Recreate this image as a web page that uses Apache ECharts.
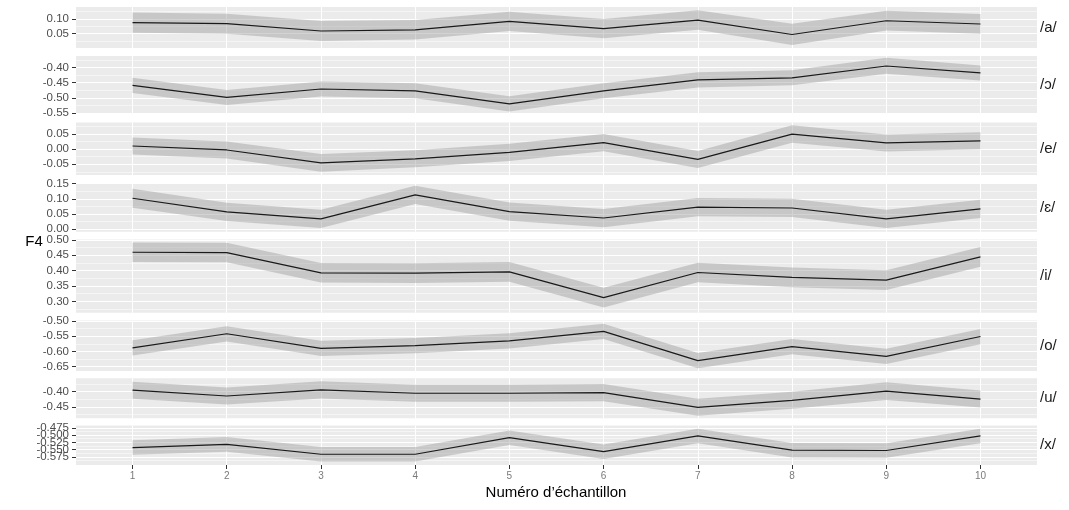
<!DOCTYPE html>
<html><head><meta charset="utf-8">
<script src="https://cdn.jsdelivr.net/npm/echarts@6/dist/echarts.min.js"></script>
<style>html,body{margin:0;padding:0;background:#fff}#c{width:1069px;height:510px}</style>
</head><body><div id="c"></div>
<script>
// ---- data ----
const samples = [1, 2, 3, 4, 5, 6, 7, 8, 9, 10];
const vowels = ['/a/', '/ɔ/', '/e/', '/ɛ/', '/i/', '/o/', '/u/', '/x/'];
const xTitle = 'Numéro d’échantillon';
const yTitle = 'F4';

const mean_a = [0.0875, 0.084, 0.059, 0.063, 0.092, 0.067, 0.096, 0.047, 0.094, 0.083];
const low_a  = [0.053, 0.050, 0.025, 0.030, 0.059, 0.034, 0.063, 0.011, 0.061, 0.050];
const high_a = [0.122, 0.118, 0.093, 0.097, 0.125, 0.100, 0.130, 0.084, 0.128, 0.117];

const mean_o_open = [-0.459, -0.499, -0.471, -0.477, -0.520, -0.477, -0.441, -0.434, -0.395, -0.418];
const low_o_open  = [-0.484, -0.524, -0.496, -0.502, -0.545, -0.502, -0.466, -0.459, -0.421, -0.443];
const high_o_open = [-0.434, -0.474, -0.446, -0.452, -0.495, -0.452, -0.416, -0.409, -0.368, -0.393];

const mean_e = [0.010, -0.003, -0.045, -0.032, -0.011, 0.021, -0.034, 0.049, 0.020, 0.027];
const low_e  = [-0.018, -0.031, -0.074, -0.060, -0.039, -0.007, -0.062, 0.021, -0.008, -0.001];
const high_e = [0.038, 0.025, -0.016, -0.004, 0.017, 0.049, -0.006, 0.078, 0.048, 0.055];

const mean_e_open = [0.102, 0.057, 0.034, 0.113, 0.058, 0.037, 0.073, 0.070, 0.034, 0.067];
const low_e_open  = [0.071, 0.027, 0.004, 0.083, 0.028, 0.007, 0.043, 0.040, 0.004, 0.037];
const high_e_open = [0.133, 0.087, 0.064, 0.143, 0.088, 0.067, 0.103, 0.100, 0.064, 0.097];

const mean_i = [0.460, 0.459, 0.393, 0.392, 0.396, 0.312, 0.394, 0.378, 0.369, 0.445];
const low_i  = [0.428, 0.427, 0.361, 0.360, 0.364, 0.280, 0.362, 0.346, 0.337, 0.413];
const high_i = [0.492, 0.491, 0.425, 0.424, 0.428, 0.344, 0.426, 0.410, 0.401, 0.477];

const mean_o = [-0.588, -0.542, -0.590, -0.581, -0.565, -0.534, -0.630, -0.584, -0.616, -0.551];
const low_o  = [-0.613, -0.567, -0.615, -0.606, -0.590, -0.559, -0.655, -0.609, -0.641, -0.576];
const high_o = [-0.563, -0.517, -0.565, -0.556, -0.540, -0.509, -0.605, -0.559, -0.591, -0.526];

const mean_u = [-0.395, -0.414, -0.394, -0.405, -0.405, -0.403, -0.451, -0.428, -0.398, -0.424];
const low_u  = [-0.423, -0.442, -0.422, -0.433, -0.433, -0.431, -0.479, -0.456, -0.427, -0.452];
const high_u = [-0.367, -0.386, -0.366, -0.377, -0.377, -0.375, -0.423, -0.400, -0.369, -0.396];

const mean_x = [-0.543, -0.532, -0.566, -0.566, -0.509, -0.557, -0.503, -0.552, -0.553, -0.503];
const low_x  = [-0.568, -0.557, -0.591, -0.591, -0.534, -0.582, -0.528, -0.577, -0.578, -0.528];
const high_x = [-0.518, -0.507, -0.541, -0.541, -0.484, -0.532, -0.478, -0.527, -0.528, -0.478];

// tick labels per panel
const ticks_a = [0.05, 0.10];
const ticks_o_open = [-0.55, -0.50, -0.45, -0.40];
const ticks_e = [-0.05, 0.00, 0.05];
const ticks_e_open = [0.00, 0.05, 0.10, 0.15];
const ticks_i = [0.30, 0.35, 0.40, 0.45, 0.50];
const ticks_o = [-0.65, -0.60, -0.55, -0.50];
const ticks_u = [-0.45, -0.40];
const ticks_x = [-0.575, -0.550, -0.525, -0.500, -0.475];

// y-axis limits per panel
const yLimits = [[0.001, 0.141], [-0.552, -0.362], [-0.085, 0.087], [-0.008, 0.1505],
                 [0.263, 0.5015], [-0.664, -0.4985], [-0.487, -0.356], [-0.603, -0.467]];

const means = [mean_a, mean_o_open, mean_e, mean_e_open, mean_i, mean_o, mean_u, mean_x];
const lows  = [low_a, low_o_open, low_e, low_e_open, low_i, low_o, low_u, low_x];
const highs = [high_a, high_o_open, high_e, high_e_open, high_i, high_o, high_u, high_x];
const ticks = [ticks_a, ticks_o_open, ticks_e, ticks_e_open, ticks_i, ticks_o, ticks_u, ticks_x];

// ---- layout (pixels) ----
const panelPx = [[7, 48], [56, 113.5], [122.5, 175], [183.5, 231.7], [239.5, 312.7], [320.5, 371], [378.3, 418.3], [425.5, 465]];
const FONT = "'Liberation Sans', Arial, Helvetica, sans-serif";
const hiddenLine = {show: true, onZero: false, lineStyle: {color: 'rgba(0,0,0,0)', width: 0}};

const grids = [], xAxes = [], yAxes = [], series = [], graphics = [];
vowels.forEach((name, i) => {
  const [top, bottom] = panelPx[i];
  const last = i === vowels.length - 1;
  const [ymin, ymax] = yLimits[i];
  const dec = last ? 3 : 2;
  const step = last ? 0.025 : 0.05;
  const minors = [];
  for (let v = Math.floor(ymin / step) * step - step / 2; v <= ymax + 1e-9; v += step) {
    if (v >= ymin) minors.push(+v.toFixed(5));
  }
  const evenT = ticks[i].filter((v, k) => k % 2 === 0);
  const oddT = ticks[i].filter((v, k) => k % 2 === 1);
  const labelBase = {formatter: v => v.toFixed(dec), fontSize: 11.5, color: '#4d4d4d', margin: 7,
                     fontFamily: FONT, hideOverlap: false, showMinLabel: true, showMaxLabel: true};
  grids.push({left: 76, right: 32, top: top, height: bottom - top, show: true,
              backgroundColor: '#EBEBEB', borderWidth: 0});
  xAxes.push({type: 'value', gridIndex: i, min: 0.4, max: 10.6,
    axisLine: hiddenLine,
    axisTick: {show: last, customValues: samples, length: 4, lineStyle: {color: '#333', width: 1}},
    axisLabel: {show: last, customValues: samples, fontSize: 10, color: '#7a7a7a', margin: 6, fontFamily: FONT},
    splitLine: {show: true, lineStyle: {color: '#ffffff', width: 1.1}}});
  // main axis: ticks + major grid + even labels
  yAxes.push({type: 'value', gridIndex: i, position: 'left', min: ymin, max: ymax,
    axisLine: hiddenLine,
    axisTick: {show: true, customValues: ticks[i], length: 4, lineStyle: {color: '#333', width: 1}},
    axisLabel: Object.assign({customValues: evenT}, labelBase),
    splitLine: {show: true, lineStyle: {color: '#ffffff', width: 1.1}}});
  // minor grid lines
  yAxes.push({type: 'value', gridIndex: i, position: 'right', min: ymin, max: ymax,
    axisLine: {show: false},
    axisTick: {show: false, customValues: minors},
    axisLabel: {show: false, customValues: minors},
    splitLine: {show: true, lineStyle: {color: 'rgba(255,255,255,0.75)', width: 0.7}}});
  // odd labels (separate axis so that crowded labels are all kept)
  yAxes.push({type: 'value', gridIndex: i, position: 'left', min: ymin, max: ymax,
    axisLine: {show: false},
    axisTick: {show: false, customValues: oddT.length ? oddT : evenT},
    axisLabel: Object.assign({customValues: oddT, show: oddT.length > 0}, labelBase),
    splitLine: {show: false}});

  const lo = lows[i], hi = highs[i];
  series.push({type: 'custom', xAxisIndex: i, yAxisIndex: 3 * i, silent: true, z: 2,
    data: samples.map((s, k) => [s, lo[k], hi[k]]),
    encode: {x: 0, y: [1, 2]},
    renderItem: (params, api) => {
      if (params.dataIndex !== 0) return null;
      const upper = samples.map((s, k) => api.coord([s, hi[k]]));
      const lower = samples.map((s, k) => api.coord([s, lo[k]])).reverse();
      return {type: 'polygon', shape: {points: upper.concat(lower)},
              style: {fill: 'rgba(150,150,150,0.42)'}};
    }});
  series.push({type: 'line', xAxisIndex: i, yAxisIndex: 3 * i,
    data: samples.map((s, k) => [s, means[i][k]]),
    symbol: 'none', lineStyle: {color: '#1a1a1a', width: 1.2}, z: 5, silent: true});

  graphics.push({type: 'text', x: 1040, y: (top + bottom) / 2,
    style: {text: name, fill: '#1a1a1a', font: '15px ' + FONT, align: 'left', verticalAlign: 'middle'}});
});

graphics.push({type: 'text', x: 34, y: 242,
  style: {text: yTitle, fill: '#000', font: '15px ' + FONT, align: 'center', verticalAlign: 'middle'}});
graphics.push({type: 'text', x: 556, y: 493,
  style: {text: xTitle, fill: '#000', font: '15px ' + FONT, align: 'center', verticalAlign: 'middle'}});

const chart = echarts.init(document.getElementById('c'), null, {renderer: 'canvas'});
chart.setOption({
  animation: false,
  backgroundColor: '#ffffff',
  grid: grids, xAxis: xAxes, yAxis: yAxes, series: series, graphic: graphics
});
</script></body></html>
